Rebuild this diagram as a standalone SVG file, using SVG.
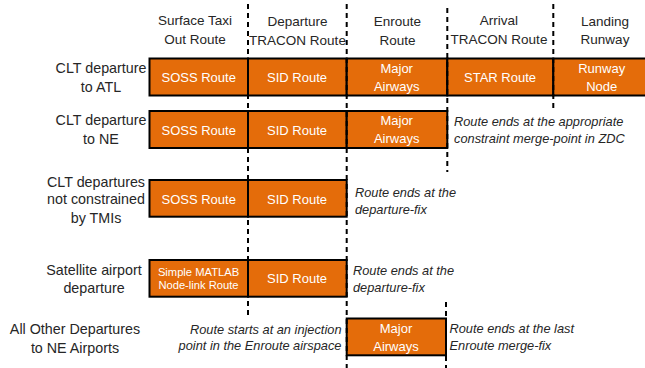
<svg xmlns="http://www.w3.org/2000/svg" width="645" height="368" viewBox="0 0 645 368">
<style>
text{font-family:"Liberation Sans",Arial,sans-serif;}
.hd{font-size:13.5px;fill:#262626;text-anchor:middle;}
.lb{font-size:14.3px;fill:#262626;text-anchor:middle;}
.bx{fill:#E46C0A;stroke:#000;stroke-width:2;}
.bt{font-size:13px;fill:#fff;text-anchor:middle;}
.sm{font-size:11.2px;fill:#fff;text-anchor:middle;}
.nt{font-size:12.8px;fill:#262626;font-style:italic;}
.dl{stroke:#000;stroke-width:2;stroke-dasharray:5,4;fill:none;}
</style>
<rect width="645" height="368" fill="#fff"/>
<g id="headers">
<text class="hd" x="195" y="25">Surface Taxi</text>
<text class="hd" x="195" y="44">Out Route</text>
<text class="hd" x="297.5" y="26">Departure</text>
<text class="hd" x="297.5" y="45">TRACON Route</text>
<text class="hd" x="397.5" y="26">Enroute</text>
<text class="hd" x="397.5" y="45">Route</text>
<text class="hd" x="499" y="25">Arrival</text>
<text class="hd" x="499" y="44">TRACON Route</text>
<text class="hd" x="605" y="26">Landing</text>
<text class="hd" x="605" y="44">Runway</text>
</g>
<g id="row1">
<text class="lb" x="101" y="73">CLT departure</text>
<text class="lb" x="101" y="91.5">to ATL</text>
<rect class="bx" x="149.5" y="58.5" width="98.5" height="37"/>
<rect class="bx" x="248" y="58.5" width="98.7" height="37"/>
<rect class="bx" x="346.7" y="58.5" width="100.6" height="37"/>
<rect class="bx" x="447.3" y="58.5" width="106" height="37"/>
<rect class="bx" x="553.3" y="58.5" width="100" height="37"/>
<text class="bt" x="198.7" y="82">SOSS Route</text>
<text class="bt" x="297" y="82">SID Route</text>
<text class="bt" x="396.7" y="72.5">Major</text>
<text class="bt" x="396.7" y="90.5">Airways</text>
<text class="bt" x="500" y="82">STAR Route</text>
<text class="bt" x="601.7" y="72.5">Runway</text>
<text class="bt" x="601.7" y="90.5">Node</text>
</g>
<g id="row2">
<text class="lb" x="101" y="125">CLT departure</text>
<text class="lb" x="101" y="144">to NE</text>
<rect class="bx" x="149.5" y="111" width="98.5" height="37"/>
<rect class="bx" x="248" y="111" width="98.7" height="37"/>
<rect class="bx" x="346.7" y="111" width="100.6" height="37"/>
<text class="bt" x="198.7" y="134.5">SOSS Route</text>
<text class="bt" x="297" y="134.5">SID Route</text>
<text class="bt" x="396.7" y="125">Major</text>
<text class="bt" x="396.7" y="143">Airways</text>
<text class="nt" x="454" y="126">Route ends at the appropriate</text>
<text class="nt" x="454" y="143">constraint merge-point in ZDC</text>
</g>
<g id="row3">
<text class="lb" x="96" y="186.5">CLT departures</text>
<text class="lb" x="96" y="204">not constrained</text>
<text class="lb" x="96" y="223">by TMIs</text>
<rect class="bx" x="149.5" y="180" width="98.5" height="36.7"/>
<rect class="bx" x="248" y="180" width="98.7" height="36.7"/>
<text class="bt" x="198.7" y="203.5">SOSS Route</text>
<text class="bt" x="297" y="203.5">SID Route</text>
<text class="nt" x="355" y="196.5">Route ends at the</text>
<text class="nt" x="355" y="213.5">departure-fix</text>
</g>
<g id="row4">
<text class="lb" x="94" y="275">Satellite airport</text>
<text class="lb" x="94" y="292.5">departure</text>
<rect class="bx" x="149.5" y="260" width="98.5" height="36.7"/>
<rect class="bx" x="248" y="260" width="98.7" height="36.7"/>
<text class="sm" x="198.5" y="275.5">Simple MATLAB</text>
<text class="sm" x="198.5" y="289">Node-link Route</text>
<text class="bt" x="297" y="283">SID Route</text>
<text class="nt" x="353" y="275">Route ends at the</text>
<text class="nt" x="353" y="291.5">departure-fix</text>
</g>
<g id="row5">
<text class="lb" x="75" y="334">All Other Departures</text>
<text class="lb" x="75" y="353">to NE Airports</text>
<text class="nt" x="341.5" y="333.5" text-anchor="end">Route starts at an injection</text>
<text class="nt" x="341.5" y="350" text-anchor="end">point in the Enroute airspace</text>
<rect class="bx" x="346.7" y="318.5" width="99.3" height="36.8"/>
<text class="bt" x="396" y="333">Major</text>
<text class="bt" x="396" y="351">Airways</text>
<text class="nt" x="449.5" y="332.5">Route ends at the last</text>
<text class="nt" x="449.5" y="349.5">Enroute merge-fix</text>
</g>
<g id="connectors">
<line class="dl" x1="248" y1="4" x2="248" y2="317"/>
<line class="dl" x1="346.7" y1="4" x2="346.7" y2="368"/>
<line class="dl" x1="447.3" y1="8" x2="447.3" y2="172"/>
<line class="dl" x1="446" y1="302" x2="446" y2="368"/>
<line class="dl" x1="553.3" y1="4" x2="553.3" y2="108"/>
</g>
</svg>
